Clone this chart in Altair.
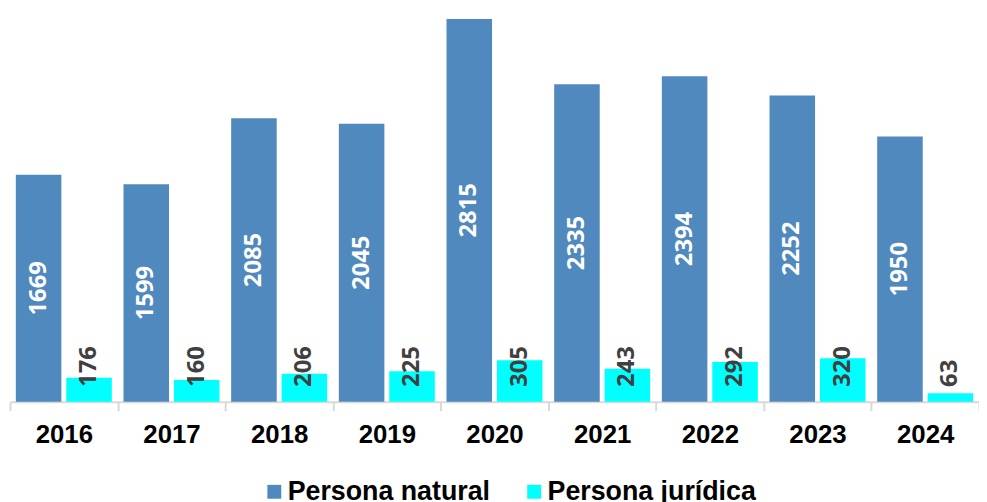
import altair as alt
import pandas as pd

years = ["2016", "2017", "2018", "2019", "2020", "2021", "2022", "2023", "2024"]
natural = [1669, 1599, 2085, 2045, 2815, 2335, 2394, 2252, 1950]
juridica = [176, 160, 206, 225, 305, 243, 292, 320, 63]
series = ["Persona natural", "Persona jurídica"]
colors = ["#4F89BD", "#00FFFF"]

rows = []
for yr, n, j in zip(years, natural, juridica):
    rows.append({"year": yr, "serie": series[0], "value": n})
    rows.append({"year": yr, "serie": series[1], "value": j})
df = pd.DataFrame(rows)

x = alt.X(
    "year:N",
    title=None,
    sort=years,
    scale=alt.Scale(paddingInner=0, paddingOuter=0),
    axis=alt.Axis(
        labelAngle=0,
        tickBand="extent",
        domainColor="#D9D9D9",
        tickColor="#D9D9D9",
        domainWidth=2,
        tickWidth=2,
        tickSize=9,
        labelFont="Liberation Sans",
        labelFontWeight="bold",
        labelFontSize=26,
        labelColor="#000000",
        labelPadding=11,
        grid=False,
    ),
)
xo = alt.XOffset("serie:N", sort=series, scale=alt.Scale(paddingInner=0.097, paddingOuter=0.116))
yscale = alt.Scale(domain=[0, 2815], nice=False, zero=True)

base = alt.Chart(df)

bars = base.mark_bar().encode(
    x=x,
    xOffset=xo,
    y=alt.Y("value:Q", scale=yscale, axis=None),
    color=alt.Color(
        "serie:N",
        sort=series,
        scale=alt.Scale(domain=series, range=colors),
        legend=alt.Legend(
            title=None,
            orient="none",
            legendX=253,
            legendY=463,
            direction="horizontal",
            symbolType="square",
            symbolSize=196,
            symbolStrokeWidth=0,
            labelFont="Liberation Sans",
            labelFontWeight="bold",
            labelFontSize=27,
            labelColor="#000000",
            labelOffset=0,
            labelLimit=500,
            columnPadding=30,
            padding=0,
        ),
    ),
)

nat_text = base.transform_filter(
    alt.datum.serie == series[0]
).transform_calculate(
    mid="datum.value / 2"
).mark_text(
    angle=270, align="center", baseline="middle", color="white",
    font="Open Sans", fontWeight="bold", fontSize=24,
).encode(
    x=x, xOffset=xo,
    y=alt.Y("mid:Q", scale=yscale, axis=None),
    text="value:Q",
)

jur_text = base.transform_filter(
    alt.datum.serie == series[1]
).mark_text(
    angle=270, align="left", baseline="middle", color="#404040",
    font="Open Sans", fontWeight="bold", fontSize=24, dx=15,
).encode(
    x=x, xOffset=xo,
    y=alt.datum(0, scale=yscale),
    text="value:Q",
)

chart = alt.layer(bars, nat_text, jur_text).properties(
    width=977,
    height=386,
    autosize=alt.AutoSizeParams(type="none"),
    padding={"left": 2, "top": 9, "right": 0, "bottom": 99},
).configure_view(stroke=None)

chart.save("out.html", embed_options={"renderer": "svg", "actions": False})
